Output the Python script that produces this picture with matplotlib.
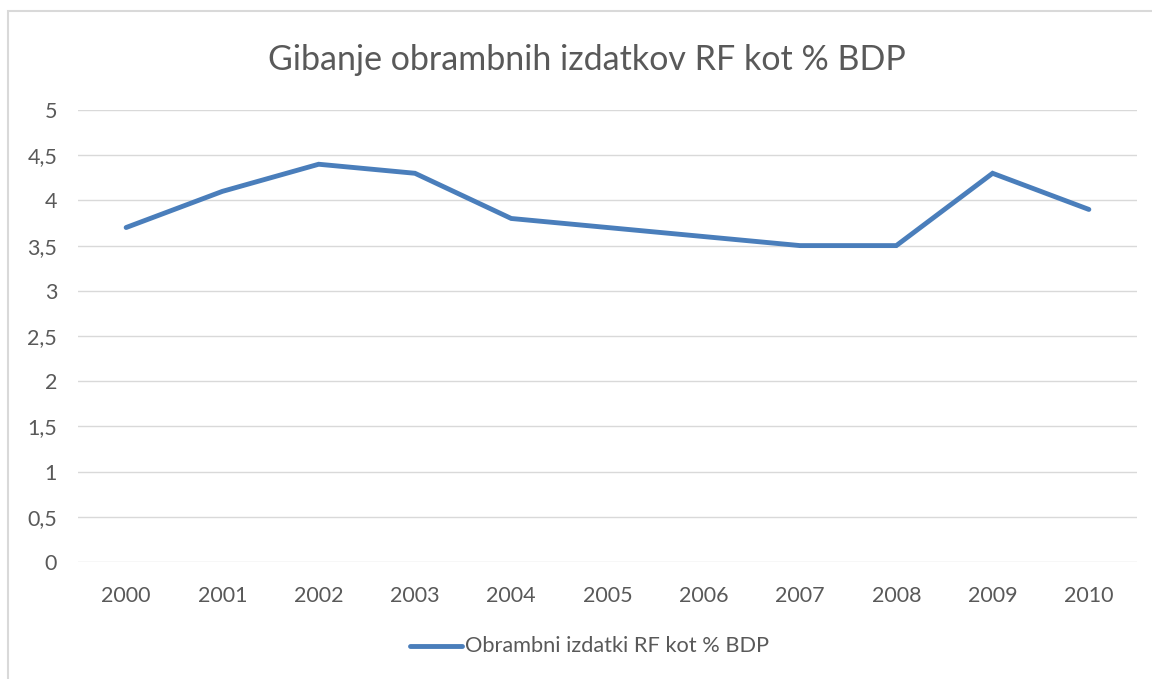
import matplotlib
matplotlib.use('Agg')
import matplotlib.pyplot as plt
from matplotlib.patches import Rectangle
from matplotlib.ticker import FuncFormatter
from matplotlib.lines import Line2D

#Data
years  = ['2000', '2001', '2002', '2003', '2004', '2005',
          '2006', '2007', '2008', '2009', '2010']
values = [3.7, 4.1, 4.4, 4.3, 3.8, 3.7, 3.6, 3.5, 3.5, 4.3, 3.9]

title  = 'Gibanje obrambnih izdatkov RF kot % BDP'
series = 'Obrambni izdatki RF kot % BDP'

#Styles
blue  = '#4A7EBB'
grey  = '#595959'
grid  = '#D9D9D9'
font  = 'Lato'

plt.rcParams['font.family'] = font

W, H = 1152, 679
fig = plt.figure(figsize=(W/100, H/100), dpi=100)

#chart frame (runs off the right and bottom of the image)
fig.patches.append(Rectangle((8/W, -0.1), 1.2, 1 - 11/H + 0.1,
                             transform=fig.transFigure, fill=False,
                             edgecolor=grid, linewidth=1.5))

ax = fig.add_axes([78/W, 1 - 562/H, (1137-78)/W, (562-110)/H])
x = range(len(years))
ax.plot(x, values, color=blue, linewidth=3.5, solid_capstyle='round',
        solid_joinstyle='miter')

ax.set_xlim(-0.5, len(years) - 0.5)
ax.set_ylim(0, 5)
ax.set_yticks([i * 0.5 for i in range(11)])
ax.yaxis.set_major_formatter(FuncFormatter(
    lambda v, p: ('%g' % v).replace('.', ',')))
ax.set_xticks(list(x))
ax.set_xticklabels(years)

ax.grid(axis='y', color=grid, linewidth=1)
ax.set_axisbelow(True)
for s in ax.spines.values():
    s.set_visible(False)
ax.tick_params(length=0, colors=grey, labelsize=15.5)
ax.tick_params(axis='y', pad=15)
ax.tick_params(axis='x', pad=17.5)

fig.text(587/W, 1 - 60/H, title, ha='center', va='center',
         fontsize=24.5, color=grey)

#legend
fig.lines.append(Line2D([410/W, 462/W], [1 - 646/H] * 2,
                        transform=fig.transFigure, color=blue,
                        linewidth=3.5, solid_capstyle='round'))
fig.text(465/W, 1 - 646/H, series, ha='left', va='center',
         fontsize=15.7, color=grey)

fig.savefig('out.png', dpi=100)
